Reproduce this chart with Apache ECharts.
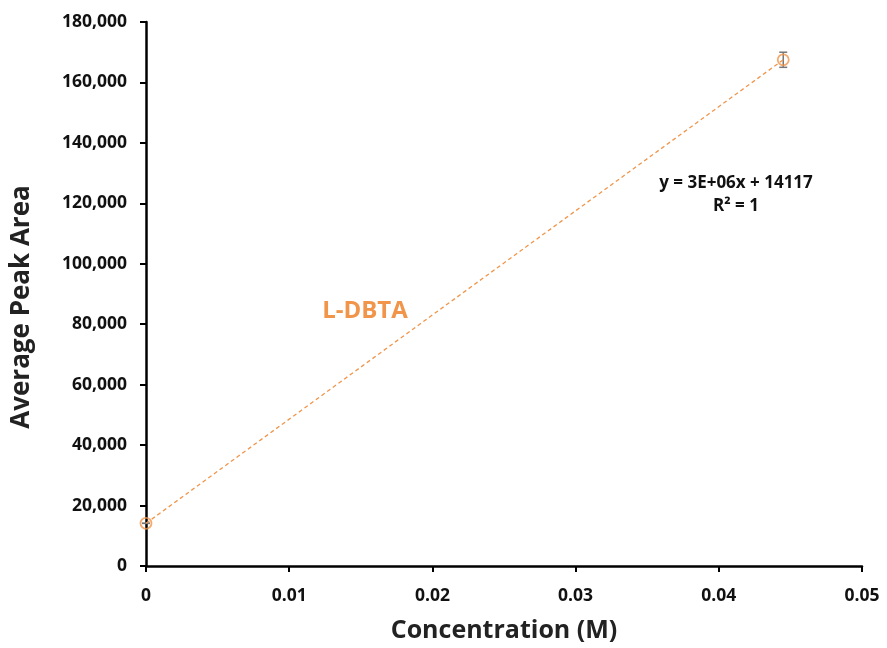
<!DOCTYPE html>
<html><head><meta charset="utf-8">
<script src="https://cdn.jsdelivr.net/npm/echarts@6/dist/echarts.min.js"></script>
<style>html,body{margin:0;padding:0;background:#fff}#c{width:887px;height:648px}</style>
</head><body><div id="c"></div>
<script>
const concentrations = [0, 0.0445];
const peakAreas = [14117, 167500];
const errors = [0, 2500];
const seriesName = 'L-DBTA';
const equationText = 'y = 3E+06x + 14117';
const r2Text = 'R² = 1';
const xTitle = 'Concentration (M)';
const yTitle = 'Average Peak Area';
const orange = '#F0954A';
const font = '"Open Sans", "Noto Sans", sans-serif';

const points = concentrations.map((x, i) => [x, peakAreas[i]]);
const errData = concentrations.map((x, i) => [x, peakAreas[i] - errors[i], peakAreas[i] + errors[i]]);

const chart = echarts.init(document.getElementById('c'));
chart.setOption({
  animation: false,
  grid: { left: 146, right: 25, top: 22, bottom: 77 },
  xAxis: {
    type: 'value', min: 0, max: 0.05, interval: 0.01,
    name: xTitle, nameLocation: 'middle', nameGap: 52,
    nameTextStyle: { fontFamily: font, fontWeight: 'bold', fontSize: 25, color: '#222' },
    axisLine: { show: true, lineStyle: { color: '#000', width: 2.5 } },
    axisTick: { show: true, inside: false, length: 6, lineStyle: { color: '#000', width: 2 } },
    splitLine: { show: false },
    axisLabel: { fontFamily: font, fontWeight: 'bold', fontSize: 17.5, color: '#111', margin: 21,
      formatter: v => v === 0 ? '0' : String(+v.toFixed(2)) }
  },
  yAxis: {
    type: 'value', min: 0, max: 180000, interval: 20000,
    axisLine: { show: true, lineStyle: { color: '#000', width: 2.5 } },
    axisTick: { show: true, inside: false, length: 6, lineStyle: { color: '#000', width: 2 } },
    splitLine: { show: false },
    axisLabel: { fontFamily: font, fontWeight: 'bold', fontSize: 17.5, color: '#111', margin: 19,
      formatter: v => v.toLocaleString('en-US') }
  },
  series: [
    {
      type: 'line', name: 'trend', data: points, showSymbol: false, silent: true,
      lineStyle: { color: orange, width: 1.3, type: [4, 3] }
    },
    {
      type: 'custom', name: 'err', data: errData,
      renderItem: (params, api) => {
        const x = api.value(0);
        const lo = api.coord([x, api.value(1)]);
        const hi = api.coord([x, api.value(2)]);
        const w = 4;
        const st = { stroke: '#777', lineWidth: 1.5 };
        return { type: 'group', children: [
          { type: 'line', shape: { x1: lo[0], y1: lo[1], x2: hi[0], y2: hi[1] }, style: st },
          { type: 'line', shape: { x1: lo[0] - w, y1: lo[1], x2: lo[0] + w, y2: lo[1] }, style: st },
          { type: 'line', shape: { x1: hi[0] - w, y1: hi[1], x2: hi[0] + w, y2: hi[1] }, style: st }
        ]};
      },
      z: 3
    },
    {
      type: 'scatter', name: seriesName, data: points, symbol: 'circle', symbolSize: 11,
      itemStyle: { color: 'rgba(255,255,255,0)', borderColor: orange, borderWidth: 1.8 }, z: 4
    }
  ],
  graphic: [
    { type: 'text', x: 22, y: 307, rotation: Math.PI / 2,
      style: { text: yTitle, fontFamily: font, fontWeight: 'bold', fontSize: 26, fill: '#222', align: 'center', verticalAlign: 'middle' } },
    { type: 'text', x: 365, y: 311, style: { text: seriesName, fontFamily: font, fontWeight: 'bold', fontSize: 24, fill: orange, align: 'center', verticalAlign: 'middle' } },
    { type: 'text', x: 736, y: 183, style: { text: equationText, fontFamily: font, fontWeight: 'bold', fontSize: 17, fill: '#111', align: 'center', verticalAlign: 'middle' } },
    { type: 'text', x: 736, y: 206, style: { text: r2Text, fontFamily: font, fontWeight: 'bold', fontSize: 17, fill: '#111', align: 'center', verticalAlign: 'middle' } }
  ]
});
</script>
</body></html>
